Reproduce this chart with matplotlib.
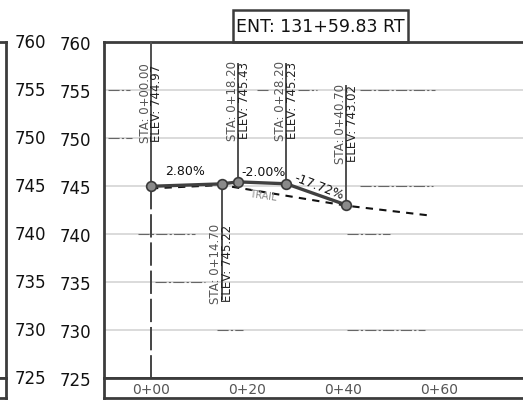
import matplotlib
matplotlib.use("Agg")
import matplotlib.pyplot as plt
from matplotlib.patches import Rectangle
from matplotlib.transforms import blended_transform_factory

plt.rcParams["font.family"] = ["Liberation Sans Narrow", "DejaVu Sans"]

# ---------- data ----------
sta = [0.0, 14.7, 18.2, 28.2, 40.7]
elev = [744.97, 745.22, 745.43, 745.23, 743.02]
sta_labels = ["STA: 0+00.00", "STA: 0+14.70", "STA: 0+18.20", "STA: 0+28.20", "STA: 0+40.70"]
elev_labels = ["ELEV: 744.97", "ELEV: 745.22", "ELEV: 745.43", "ELEV: 745.23", "ELEV: 743.02"]
label_elev = [753.7, 737.0, 754.0, 754.0, 751.6]    # centre of the rotated callouts
leader_end = [760.0, 733.2, 757.7, 757.7, 755.4]    # far end of the callout leader

grade_text = ["2.80%", "-2.00%", "-17.72%"]
grade_sta = [7.1, 23.4, 35.0]
grade_elev = [746.6, 746.5, 744.95]
grade_rot = [0, 0, -21]

ground_sta = [0.0, 14.7, 40.7, 58.5]
ground_elev = [744.75, 745.1, 742.95, 741.9]

yticks = [725, 730, 735, 740, 745, 750, 755, 760]
xticks = [0, 20, 40, 60]
xtick_labels = ["0+00", "0+20", "0+40", "0+60"]

# leftover cad linework (elev, from sta, to sta)
stray_elev = [755, 755, 755, 755, 750, 745, 740, 740, 735, 730, 730]
stray_from = [-9.0, 22.1, 30.6, 43.5, -9.0, 43.5, -2.7, 40.8, 0.8, 13.8, 40.8]
stray_to = [-4.4, 24.4, 34.6, 59.2, -4.0, 58.8, 9.2, 49.8, 11.3, 19.2, 57.1]

title = "ENT: 131+59.83 RT"

# ---------- layout (pixels of a 523x406 canvas) ----------
W, H = 523, 406
def fx(px):
    return px / W
def fy(py):
    return 1 - py / H

frame_c = "#3c3c3c"
fig = plt.figure(figsize=(5.23, 4.06), dpi=100)

# main profile axes, right edge runs off the sheet
ax = fig.add_axes([fx(104), fy(379), fx(560 - 104), (379 - 43) / H])
ax.set_xlim(-9.79, 85.2)
ax.set_ylim(725, 760)
for s in ax.spines.values():
    s.set_linewidth(2.0)
    s.set_color(frame_c)

ax.set_yticks(yticks)
ax.set_yticklabels([str(v) for v in yticks], fontsize=12, color="#111111")
ax.tick_params(axis="y", length=0, pad=9)
ax.set_xticks(xticks)
ax.tick_params(axis="x", length=0, labelbottom=False)
ax.grid(True, color="#d8d8d8", lw=1.3)
ax.set_axisbelow(True)

# second column of elevations belongs to the neighbouring sheet
tr = blended_transform_factory(fig.transFigure, ax.transData)
for v in yticks:
    ax.text(fx(30), v, str(v), transform=tr, ha="center", va="center",
            fontsize=12, color="#111111", clip_on=False)

for e, a, b in zip(stray_elev, stray_from, stray_to):
    ax.plot([a, b], [e, e], color="#666666", lw=0.8, ls=(0, (10, 2, 2, 2)))

# existing ground
ax.plot(ground_sta, ground_elev, color="#111111", lw=1.5, ls=(0, (3.5, 3)))

# callout leaders
for s, e, end in zip(sta, elev, leader_end):
    ax.plot([s, s], [e, end], color="#505050", lw=1.4, zorder=3)
ax.plot([sta[0], sta[0]], [elev[0], 725], color="#444444", lw=1.4, ls=(0, (12, 2.5)), zorder=3)

# design line
ax.plot(sta, elev, color="#404040", lw=2.4, zorder=4)
ax.plot(sta, elev, ls="none", marker="o", ms=7, mfc="#8a8a8a", mec="#3a3a3a", mew=1.2, zorder=5)

for s, t1, t2, ly in zip(sta, sta_labels, elev_labels, label_elev):
    ax.annotate(t1, (s, ly), xytext=(-4.3, 0), textcoords="offset points", rotation=90,
                ha="center", va="center", fontsize=8.5, color="#555555", zorder=6)
    ax.annotate(t2, (s, ly), xytext=(4.3, 0), textcoords="offset points", rotation=90,
                ha="center", va="center", fontsize=8.5, color="#222222", zorder=6)

for t, s, e, r in zip(grade_text, grade_sta, grade_elev, grade_rot):
    ax.text(s, e, t, ha="center", va="center", rotation=r, fontsize=9, color="#111111", zorder=6)

ax.text(23.3, 744.05, "TRAIL", ha="center", va="center", rotation=-8, fontsize=7,
        color="#8a8a8a", zorder=6)

# station strip under the profile
strip = fig.add_axes([fx(104), fy(399), fx(560 - 104), (399 - 379) / H], sharex=ax)
strip.set_ylim(0, 1)
strip.set_yticks([])
strip.set_xticks([])
for s in strip.spines.values():
    s.set_linewidth(2.0)
    s.set_color(frame_c)
for x, lab in zip(xticks, xtick_labels):
    strip.text(x, 0.45, lab, ha="center", va="center", fontsize=10, color="#555555")

# neighbouring sheet edge on the left
left = fig.add_axes([fx(-100), fy(379), fx(106), (379 - 43) / H])
left2 = fig.add_axes([fx(-100), fy(399), fx(106), (399 - 379) / H])
for a in (left, left2):
    a.set_xticks([])
    a.set_yticks([])
    for s in a.spines.values():
        s.set_linewidth(2.0)
        s.set_color(frame_c)

# title box
fig.patches.append(Rectangle((fx(233), fy(43)), fx(408 - 233), (43 - 11) / H,
                             transform=fig.transFigure, fill=False, lw=1.8,
                             edgecolor=frame_c))
fig.text(fx(320), fy(27), title, ha="center", va="center", fontsize=12.5, color="#111111")

fig.savefig("out.png", dpi=100)
